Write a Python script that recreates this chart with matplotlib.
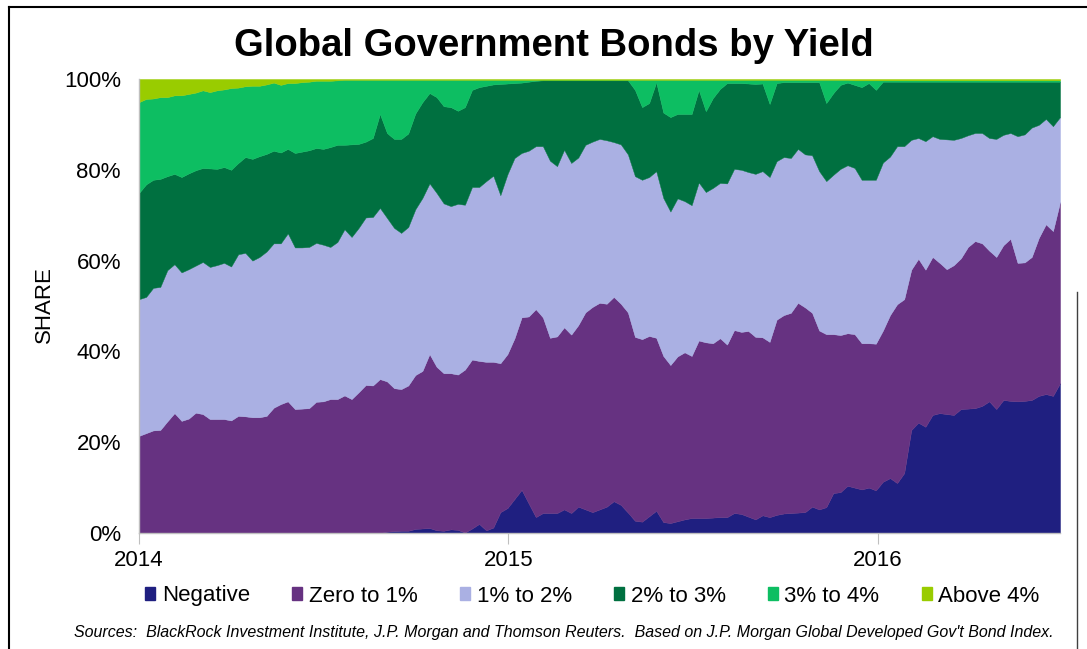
import matplotlib
matplotlib.use("Agg")
import matplotlib.pyplot as plt
import matplotlib.dates as mdates
from matplotlib.patches import Patch
from matplotlib.lines import Line2D
import numpy as np
import pandas as pd

plt.rcParams['font.family'] = ['Liberation Sans', 'DejaVu Sans']

# Weekly observations, Jan 2014 - Jun 2016
dates = pd.date_range("2014-01-01", periods=131, freq="7D")

# Cumulative share (%) of bonds yielding below each threshold
below_0 = [0, 0, 0, 0, 0, 0, 0, 0, 0, 0,
           0, 0, 0, 0, 0, 0, 0, 0, 0, 0,
           0, 0, 0, 0, 0, 0, 0, 0, 0, 0,
           0, 0, 0, 0, 0, 0.3, 0.4, 0.5, 0.5, 0.9,
           1.0, 1.1, 0.6, 0.5, 0.8, 0.7, 0.1, 1.0, 2.0, 0.6,
           1.2, 4.6, 5.5, 7.5, 9.5, 6.5, 3.5, 4.4, 4.4, 4.4,
           5.2, 4.4, 5.8, 5.2, 4.6, 5.2, 5.8, 7.0, 6.2, 4.5,
           2.7, 2.5, 3.7, 4.9, 2.4, 2.2, 2.6, 3.0, 3.3, 3.3,
           3.3, 3.4, 3.5, 3.5, 4.4, 4.2, 3.6, 3.0, 3.9, 3.5,
           4.0, 4.3, 4.4, 4.5, 4.6, 5.8, 5.2, 5.7, 8.8, 9.0,
           10.4, 10.0, 9.6, 10.0, 9.4, 11.3, 12.1, 11.0, 13.2, 22.7,
           24.3, 23.4, 26.0, 26.4, 26.2, 26.0, 27.3, 27.4, 27.5, 28.0,
           29.0, 27.3, 29.3, 29.1, 29.0, 29.1, 29.3, 30.2, 30.6, 30.2,
           33.0]

below_1 = [21.4, 22.0, 22.6, 22.7, 24.6, 26.4, 24.7, 25.2, 26.5, 26.2,
           25.1, 25.1, 25.1, 24.8, 25.8, 25.7, 25.5, 25.5, 25.8, 27.6,
           28.4, 29.0, 27.3, 27.4, 27.5, 28.9, 29.0, 29.5, 29.5, 30.3,
           29.5, 31.0, 32.6, 32.5, 33.9, 33.4, 31.9, 31.7, 32.5, 34.8,
           35.7, 39.4, 36.6, 35.2, 35.2, 34.9, 36.0, 38.2, 37.9, 37.7,
           37.7, 37.4, 39.4, 42.9, 47.5, 47.7, 49.3, 47.5, 43.0, 43.3,
           45.3, 43.7, 45.8, 48.6, 49.8, 50.7, 50.5, 52.0, 50.5, 48.6,
           43.2, 42.7, 43.4, 43.0, 39.0, 37.0, 38.9, 39.8, 39.0, 42.4,
           42.0, 41.8, 42.9, 41.5, 44.7, 44.3, 44.5, 43.2, 43.1, 42.1,
           47.0, 48.0, 48.5, 50.7, 49.7, 48.5, 44.6, 43.8, 43.8, 43.6,
           44.0, 43.8, 41.8, 41.8, 41.7, 44.6, 48.0, 50.4, 51.5, 58.0,
           60.4, 58.0, 60.8, 59.5, 58.1, 59.0, 60.5, 63.0, 64.3, 63.8,
           62.2, 60.8, 63.4, 64.8, 59.5, 59.6, 60.8, 65.0, 68.0, 66.5,
           72.9]

below_2 = [51.5, 52.0, 54.0, 54.2, 57.9, 59.2, 57.4, 58.1, 58.9, 59.7,
           58.6, 59.0, 59.5, 58.7, 61.4, 61.7, 60.0, 60.8, 62.0, 63.8,
           63.8, 66.0, 62.9, 62.9, 63.0, 63.9, 63.5, 63.0, 64.1, 66.9,
           65.2, 67.2, 69.5, 69.6, 71.6, 69.4, 67.2, 66.1, 67.4, 71.3,
           73.8, 77.0, 74.9, 72.6, 72.0, 72.5, 72.3, 76.2, 76.2, 77.5,
           78.7, 74.4, 79.0, 82.6, 83.7, 84.2, 85.2, 85.2, 82.0, 80.8,
           84.4, 81.5, 82.7, 85.5, 86.2, 86.8, 86.5, 86.1, 85.6, 83.4,
           78.6, 77.8, 78.4, 79.7, 73.8, 70.8, 73.7, 73.1, 72.2, 77.2,
           75.1, 76.0, 77.1, 77.0, 80.2, 80.0, 79.5, 79.1, 79.7, 78.4,
           81.9, 82.8, 82.6, 84.6, 83.4, 83.2, 79.7, 77.5, 78.9, 80.2,
           81.0, 80.4, 77.8, 77.8, 77.8, 81.6, 82.9, 85.2, 85.2, 86.6,
           87.0, 86.3, 87.4, 86.8, 86.7, 86.6, 87.0, 87.6, 88.1, 88.1,
           87.0, 86.8, 87.7, 88.1, 87.4, 87.8, 89.3, 89.9, 91.2, 89.6,
           91.6]

below_3 = [74.9, 76.8, 77.8, 78.0, 78.6, 79.1, 78.4, 79.2, 79.9, 80.4,
           80.3, 80.2, 80.6, 80.0, 81.5, 82.8, 82.4, 83.0, 83.5, 84.2,
           83.8, 84.6, 83.7, 84.0, 84.3, 84.8, 84.6, 85.0, 85.5, 85.5,
           85.6, 85.7, 86.2, 87.0, 92.3, 88.1, 86.8, 86.8, 88.0, 92.4,
           94.9, 96.9, 96.0, 94.0, 93.8, 93.0, 93.8, 97.6, 98.2, 98.5,
           98.8, 98.9, 99.0, 99.1, 99.2, 99.4, 99.6, 99.7, 99.7, 99.7,
           99.7, 99.7, 99.7, 99.7, 99.7, 99.7, 99.7, 99.7, 99.7, 99.7,
           97.6, 93.8, 94.7, 99.3, 92.6, 91.6, 92.3, 92.3, 92.3, 97.6,
           92.9, 95.8, 97.8, 99.1, 99.1, 99.1, 99.0, 98.9, 99.0, 94.5,
           99.1, 99.3, 99.3, 99.3, 99.3, 99.3, 99.3, 94.7, 96.9, 98.7,
           99.2, 98.7, 98.2, 99.1, 97.6, 99.4, 99.4, 99.4, 99.4, 99.4,
           99.4, 99.4, 99.4, 99.4, 99.4, 99.4, 99.4, 99.4, 99.4, 99.4,
           99.4, 99.4, 99.4, 99.4, 99.4, 99.4, 99.4, 99.4, 99.4, 99.4,
           99.4]

below_4 = [94.9, 95.6, 95.7, 96.0, 96.0, 96.4, 96.4, 96.7, 97.0, 97.5,
           97.1, 97.5, 97.7, 98.0, 98.1, 98.4, 98.5, 98.5, 98.8, 99.2,
           98.7, 99.1, 99.1, 99.3, 99.4, 99.6, 99.6, 99.6, 99.7, 99.8,
           99.8, 99.8, 99.8, 99.8, 99.8, 99.8, 99.8, 99.8, 99.8, 99.8,
           99.8, 99.8, 99.8, 99.8, 99.8, 99.8, 99.8, 99.8, 99.8, 99.8,
           99.8, 99.8, 99.8, 99.8, 99.8, 99.8, 99.8, 99.8, 99.8, 99.8,
           99.8, 99.8, 99.8, 99.8, 99.8, 99.8, 99.8, 99.8, 99.8, 99.8,
           99.8, 99.8, 99.8, 99.8, 99.8, 99.8, 99.8, 99.8, 99.8, 99.8,
           99.8, 99.8, 99.8, 99.8, 99.8, 99.8, 99.8, 99.8, 99.8, 99.8,
           99.8, 99.8, 99.8, 99.8, 99.8, 99.8, 99.8, 99.8, 99.8, 99.8,
           99.8, 99.7, 99.7, 99.7, 99.7, 99.7, 99.7, 99.7, 99.7, 99.7,
           99.7, 99.7, 99.7, 99.7, 99.7, 99.7, 99.7, 99.7, 99.7, 99.7,
           99.7, 99.7, 99.7, 99.7, 99.7, 99.7, 99.7, 99.7, 99.7, 99.7,
           99.7]

total = [100.0] * len(dates)

labels = ["Negative", "Zero to 1%", "1% to 2%", "2% to 3%", "3% to 4%", "Above 4%"]
colors = ["#1F1F80", "#663281", "#AAB0E3", "#007040", "#0DBE62", "#99CC00"]

fig = plt.figure(figsize=(10.87, 6.49), dpi=100)
ax = fig.add_axes([0.1279, 0.1787, 0.8473, 0.6996])

bounds = [[0.0] * len(dates), below_0, below_1, below_2, below_3, below_4, total]
for i in range(6):
    ax.fill_between(dates, bounds[i], bounds[i + 1], facecolor=colors[i],
                    edgecolor=colors[i], linewidth=0.3, zorder=2)

ax.set_xlim(dates[0], dates[-1])
ax.set_ylim(0, 100)
ax.set_yticks([0, 20, 40, 60, 80, 100])
ax.set_yticklabels([f"{v}%" for v in [0, 20, 40, 60, 80, 100]], fontsize=16)
xt = pd.to_datetime(["2014-01-01", "2015-01-01", "2016-01-01"])
ax.set_xticks(xt)
ax.set_xticklabels(["2014", "2015", "2016"], fontsize=16)
ax.tick_params(axis='y', length=0, pad=13)
ax.tick_params(axis='x', length=8, color="#BFBFBF", pad=4, direction='out')
for s in ["top", "right"]:
    ax.spines[s].set_visible(False)
for s in ["left", "bottom"]:
    ax.spines[s].set_color("#BFBFBF")
    ax.spines[s].set_linewidth(1)

fig.text(0.041, 0.530, "SHARE", rotation=90, fontsize=16, ha="center", va="center")
fig.text(0.510, 1 - 46 / 649, "Global Government Bonds by Yield", fontsize=27.5,
         fontweight="bold", ha="center", va="center")

handles = [Patch(facecolor=c, edgecolor=c) for c in colors]
fig.legend(handles, labels, loc="center", bbox_to_anchor=(0.545, 1 - 596 / 649),
           ncol=6, frameon=False, fontsize=16, handlelength=0.45, handleheight=0.55,
           handletextpad=0.3, columnspacing=1.9)

fig.text(0.519, 1 - 633 / 649,
         "Sources:  BlackRock Investment Institute, J.P. Morgan and Thomson Reuters.  "
         "Based on J.P. Morgan Global Developed Gov't Bond Index.",
         fontsize=11.5, style="italic", ha="center", va="center")

# figure frame
fig.add_artist(Line2D([0.0083, 1.0], [0.989, 0.989], transform=fig.transFigure,
                      color="black", linewidth=1.5))
fig.add_artist(Line2D([0.0083, 0.0083], [0.0, 0.989], transform=fig.transFigure,
                      color="black", linewidth=1.5))
fig.add_artist(Line2D([0.9905, 0.9905], [0.0, 0.55], transform=fig.transFigure,
                      color="#404040", linewidth=1.0))

fig.savefig("out.png", dpi=100)
